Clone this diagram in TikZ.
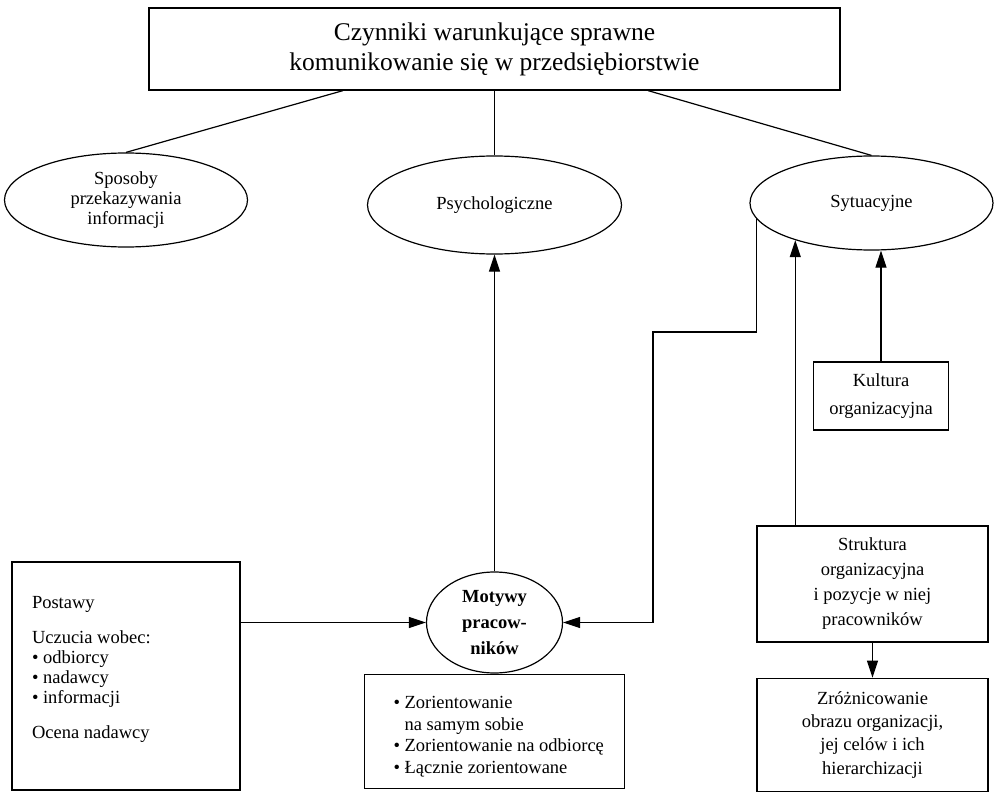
\documentclass[tikz,border=0pt]{standalone}
\usepackage{fontspec}
\setmainfont{Liberation Serif}
\usepackage{tikz}
\usetikzlibrary{arrows.meta,positioning,shapes.geometric}
\newcommand{\diagfont}{\fontsize{18.5}{22}\selectfont}
\newcommand{\headfont}{\fontsize{25.5}{30}\selectfont}
\newcommand{\motfont}{\fontsize{18.5}{26}\selectfont\bfseries}

\begin{document}
\begin{tikzpicture}[
  x=1pt, y=-1pt,
  line width=1.2pt,
  box/.style={draw, rectangle, inner sep=0pt, align=center, font=\diagfont},
  oval/.style={draw, ellipse, inner sep=0pt, align=center, font=\diagfont},
  plain/.style={anchor=north west, align=left, inner sep=0pt},
  arr/.style={-{Triangle[length=17pt,width=11pt]}}
]
\useasboundingbox (0,0) rectangle (997,792);

\node[box, minimum width=691pt, minimum height=82pt, font=\headfont] (title) at (494.5,49) {Czynniki warunkujące sprawne\\komunikowanie się w przedsiębiorstwie};

\node[oval, minimum width=243pt, minimum height=94pt, font=\fontsize{18.5}{20}\selectfont] (sposoby) at (126,200) {Sposoby\\przekazywania\\informacji};
\node[oval, minimum width=254pt, minimum height=98pt] (psych) at (494.5,205) {Psychologiczne};
\node[oval, minimum width=243pt, minimum height=94pt] (sytu) at (871.5,203) {Sytuacyjne};

\node[oval, minimum width=136pt, minimum height=101pt, font=\motfont] (motywy) at (494.5,622.5) {Motywy\\pracow-\\ników};
\node[box, minimum width=260pt, minimum height=114pt, below=0pt of motywy] (cechy) {};
\node[plain, font=\fontsize{18.5}{21.7}\selectfont, below right=22pt and 29pt of cechy.north west] (cechytxt) {• Zorientowanie\\\hphantom{• }na samym sobie\\• Zorientowanie na odbiorcę\\• Łącznie zorientowane};

\node[box, minimum width=228pt, minimum height=228pt] (postawy) at (126,676) {};
\node[plain, font=\fontsize{18.5}{20}\selectfont, below right=34pt and 20pt of postawy.north west] (postawytxt) {Postawy\\[15pt]Uczucia wobec:\\• odbiorcy\\• nadawcy\\• informacji\\[15pt]Ocena nadawcy};

\node[box, minimum width=135pt, minimum height=68pt, font=\fontsize{18.5}{28}\selectfont] (kultura) at (881,396) {Kultura\\organizacyjna};
\node[box, minimum width=231pt, minimum height=116pt, font=\fontsize{18.5}{25}\selectfont] (struktura) at (872.5,584) {Struktura\\organizacyjna\\i pozycje w niej\\pracowników};
\node[box, minimum width=231pt, minimum height=113pt, font=\fontsize{18.5}{23.3}\selectfont, below=35pt of struktura] (zroz) {Zróżnicowanie\\obrazu organizacji,\\jej celów i ich\\hierarchizacji};

\coordinate (zakret) at (653,332);

\draw ([xshift=-151.5pt]title.south) -- (sposoby.north);
\draw (title.south) -- (psych.north);
\draw ([xshift=153.5pt]title.south) -- (sytu.north);
\draw[arr] (motywy.north) -- (psych.south);
\draw[arr] (postawy.east |- motywy.west) -- (motywy.west);
\draw[arr] (sytu.188) |- (zakret) |- (motywy.east);
\draw[arr] (struktura.north -| sytu.206) -- (sytu.206);
\draw[arr] (kultura.north) -- (kultura.north |- sytu.south);
\draw[arr] (struktura) -- (zroz);
\end{tikzpicture}
\end{document}
